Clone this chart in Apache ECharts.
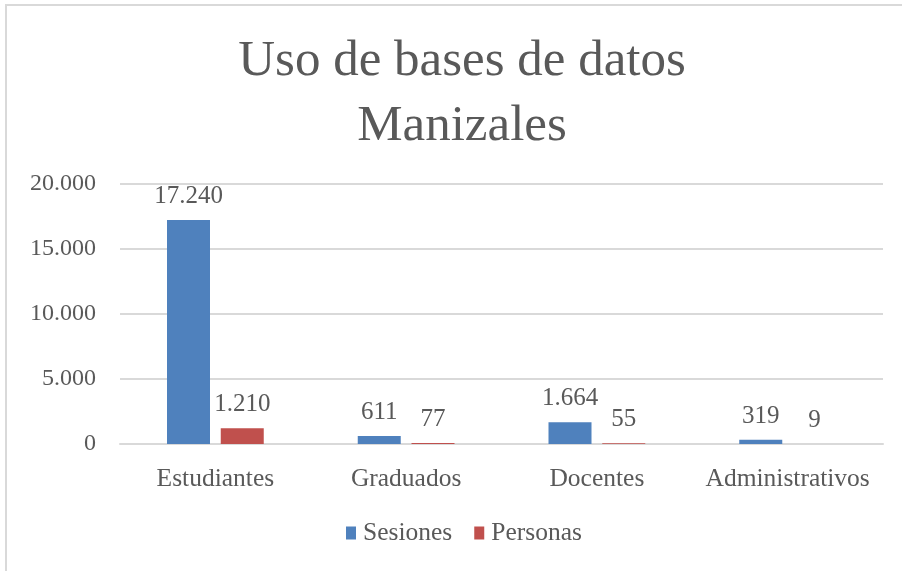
<!DOCTYPE html>
<html>
<head>
<meta charset="utf-8">
<script src="https://cdn.jsdelivr.net/npm/echarts@6/dist/echarts.min.js"></script>
<style>
    html, body { margin: 0; padding: 0; background: #fff; }
    #chart { width: 902px; height: 571px; }
</style>
</head>
<body>
<div id="chart"></div>
<script>
var categories = ['Estudiantes', 'Graduados', 'Docentes', 'Administrativos'];
var sesiones = [17240, 611, 1664, 319];
var personas = [1210, 77, 55, 9];
var yTicks = [0, 5000, 10000, 15000, 20000];

var FONT = '"Liberation Serif", "DejaVu Serif", serif';
var GRAY = '#595959';

function miles(v) {
    // separador de miles con punto
    return String(v).replace(/\B(?=(\d{3})+(?!\d))/g, '.');
}

var myChart = echarts.init(document.getElementById('chart'));
var option = {
    animation: false,
    backgroundColor: '#fff',
    title: {
        text: 'Uso de bases de datos\nManizales',
        left: 457,
        textAlign: 'center',
        top: 24,
        textStyle: {
            fontFamily: FONT,
            fontSize: 51,
            fontWeight: 'normal',
            color: GRAY,
            lineHeight: 65
        }
    },
    graphic: [
        {
            type: 'polyline',
            shape: { points: [[6, 600], [6, 5], [910, 5]] },
            style: { stroke: '#d9d9d9', lineWidth: 2, fill: null }
        }
    ],
    legend: {
        bottom: 20,
        left: 341,
        itemWidth: 10,
        itemHeight: 13,
        itemGap: 22,
        icon: 'rect',
        textStyle: { fontFamily: FONT, fontSize: 25.5, color: GRAY, padding: [0, 0, 0, 2] },
        data: ['Sesiones', 'Personas']
    },
    grid: {
        left: 120,
        right: 19,
        top: 184,
        bottom: 127,
        containLabel: false
    },
    xAxis: {
        type: 'category',
        data: categories,
        axisLine: { show: true, lineStyle: { color: '#d9d9d9', width: 2 } },
        axisTick: { show: false },
        axisLabel: {
            interval: 0,
            fontFamily: FONT,
            fontSize: 25.5,
            color: GRAY,
            margin: 22
        }
    },
    yAxis: {
        type: 'value',
        min: yTicks[0],
        max: yTicks[yTicks.length - 1],
        interval: 5000,
        axisLine: { show: false },
        axisTick: { show: false },
        splitLine: { lineStyle: { color: '#d9d9d9', width: 2 } },
        axisLabel: {
            fontFamily: FONT,
            fontSize: 24,
            color: GRAY,
            margin: 24,
            formatter: function (v) { return miles(v); }
        }
    },
    series: [
        {
            name: 'Sesiones',
            type: 'bar',
            data: sesiones,
            barWidth: 43,
            barGap: '25%',
            itemStyle: { color: '#4f81bd' },
            label: {
                show: true,
                position: 'top',
                distance: 11,
                fontFamily: FONT,
                fontSize: 25,
                color: GRAY,
                formatter: function (p) { return miles(p.value); }
            }
        },
        {
            name: 'Personas',
            type: 'bar',
            data: personas,
            barWidth: 43,
            itemStyle: { color: '#c0504d' },
            label: {
                show: true,
                position: 'top',
                distance: 11,
                fontFamily: FONT,
                fontSize: 25,
                color: GRAY,
                formatter: function (p) { return miles(p.value); }
            }
        }
    ]
};
myChart.setOption(option);
</script>
</body>
</html>
